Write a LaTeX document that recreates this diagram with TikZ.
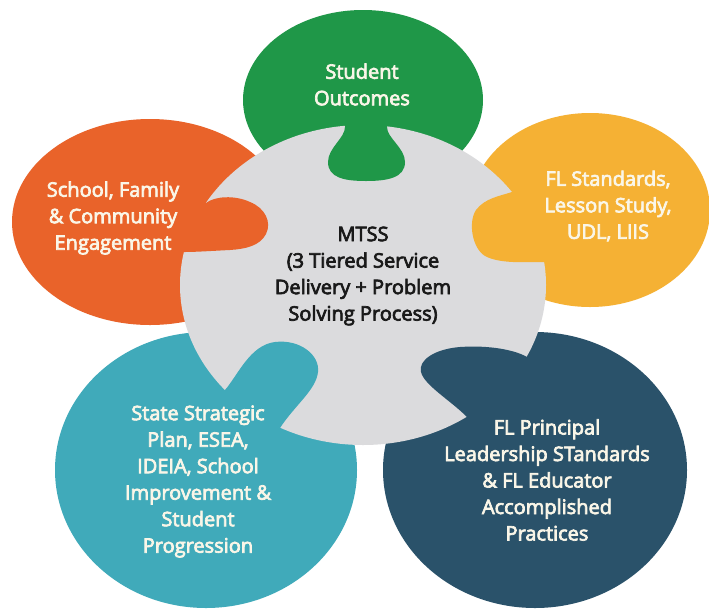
\documentclass[tikz,border=0pt]{standalone}
\usepackage{fontspec}
\newfontfamily\labfont{Open Sans}
\newcommand\semibd{\special{pdf:literal direct 2 Tr 0.7 w}}
\definecolor{cgreen}{RGB}{31,151,72}
\definecolor{corange}{RGB}{233,99,42}
\definecolor{cyellow}{RGB}{245,177,52}
\definecolor{cteal}{RGB}{64,170,186}
\definecolor{cnavy}{RGB}{42,82,106}
\definecolor{cgray}{RGB}{219,219,221}
\definecolor{cream}{RGB}{250,246,232}
\definecolor{ink}{RGB}{25,25,25}
\begin{document}
\begin{tikzpicture}[x=1pt,y=-1pt,
  lab/.style={align=center,font=\labfont\fontsize{20}{26.5}\selectfont,text=cream,inner sep=0pt},
  darklab/.style={lab,text=ink}]
\useasboundingbox (0,0) rectangle (709,611);
\fill[white] (0,0) rectangle (709,611);
% outer petals
\fill[cgreen] (363,100) ellipse [x radius=120, y radius=90];
\fill[corange] (150,222) ellipse [x radius=138, y radius=103];
\fill[cyellow] (590,210) ellipse [x radius=120, y radius=97];
\fill[cteal] (206,470) ellipse [x radius=151, y radius=138];
\fill[cnavy] (535,470) ellipse [x radius=152, y radius=138];
% centre
\fill[cgray] (363,285) ellipse [x radius=183, y radius=160];
% tabs
\fill[cgreen] (345,110) -- (345,127) .. controls (345,138) and (328,148) .. (328,162)
  .. controls (328,178) and (345,181) .. (366,181) .. controls (387,181) and (405,178) .. (405,162)
  .. controls (405,148) and (387,138) .. (387,127) -- (387,110) -- cycle;
\fill[corange] (190,200) -- (206,203) .. controls (215,196) and (235,195) .. (250,202)
  .. controls (265,208) and (272,222) .. (266,234) .. controls (260,246) and (245,249) .. (230,250)
  .. controls (210,251) and (195,252) .. (185,252) -- (170,252) -- (170,200) -- cycle;
\fill[cyellow] (530,190) -- (512,192) .. controls (500,196) and (485,198) .. (476,210)
  .. controls (468,222) and (472,248) .. (485,256) .. controls (500,264) and (525,262) .. (544,262)
  -- (560,262) -- (560,190) -- cycle;
\fill[cteal] (215,400) -- (225,390) .. controls (238,375) and (250,345) .. (275,342)
  .. controls (300,339) and (320,355) .. (318,372) .. controls (316,390) and (295,405) .. (280,428)
  -- (270,440) -- (215,440) -- cycle;
\fill[cnavy] (540,370) -- (527,357) .. controls (515,350) and (490,345) .. (460,347)
  .. controls (435,349) and (418,360) .. (421,372) .. controls (424,385) and (450,400) .. (467,417)
  -- (490,420) -- (540,400) -- cycle;
% labels
\node[lab] (out) at (362,84.5) {\semibd Student\\\semibd Outcomes};
\node[lab] (eng) at (113,218) {\semibd School, Family\\\semibd\& Community\\\semibd Engagement};
\node[lab] (std) at (608,206) {\semibd FL Standards,\\\semibd Lesson Study,\\\semibd UDL, LIIS};
\node[lab] (ssp) at (198,481.5) {\semibd State Strategic\\\semibd Plan, ESEA,\\\semibd IDEIA, School\\\semibd Improvement \&\\\semibd Student\\\semibd Progression};
\node[lab] (lead) at (547,480) {\semibd FL Principal\\\semibd Leadership STandards\\\semibd\& FL Educator\\\semibd Accomplished\\\semibd Practices};
\node[darklab] (mtss) at (363,276) {\semibd MTSS\\\semibd(3 Tiered Service\\\semibd Delivery + Problem\\\semibd Solving Process)};
\end{tikzpicture}
\end{document}
